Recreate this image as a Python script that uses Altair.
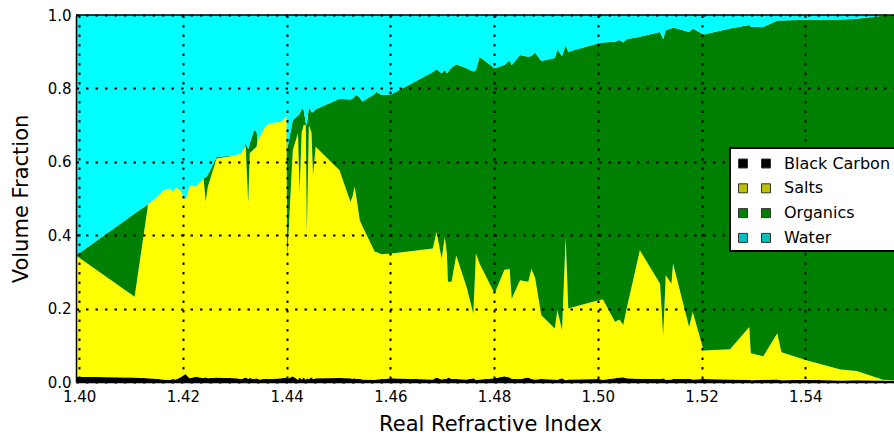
import altair as alt
import pandas as pd

# Real refractive index of each retrieved composition
ri = [
    1.3994, 1.4107, 1.4133, 1.4149, 1.4162, 1.4175, 1.4181, 1.4186, 1.4195, 1.4205,
    1.4213, 1.4225, 1.4240, 1.4244, 1.4248, 1.4265, 1.4303, 1.4313, 1.4321, 1.4326,
    1.4329, 1.4337, 1.4342, 1.4344, 1.4348, 1.4358, 1.4367, 1.4390, 1.4400, 1.4401,
    1.4412, 1.4422, 1.4425, 1.4429, 1.4433, 1.4437, 1.4439, 1.4443, 1.4448, 1.4451,
    1.4456, 1.4502, 1.4523, 1.4527, 1.4531, 1.4535, 1.4541, 1.4546, 1.4570, 1.4573,
    1.4583, 1.4602, 1.4682, 1.4689, 1.4699, 1.4705, 1.4709, 1.4711, 1.4718, 1.4727,
    1.4747, 1.4760, 1.4765, 1.4772, 1.4801, 1.4820, 1.4830, 1.4834, 1.4850, 1.4866,
    1.4872, 1.4879, 1.4891, 1.4917, 1.4922, 1.4931, 1.4938, 1.4943, 1.5001, 1.5010,
    1.5033, 1.5042, 1.5049, 1.5055, 1.5081, 1.5120, 1.5126, 1.5131, 1.5142, 1.5145,
    1.5176, 1.5183, 1.5204, 1.5255, 1.5292, 1.5295, 1.5319, 1.5346, 1.5354, 1.5402,
    1.5468, 1.5499, 1.5550, 1.5571,
]

# Volume fractions of each component at those indices
black_carbon = [
    .014, .012, .010, .009, .007, .006, .008, .007, .012, .022,
    .010, .014, .011, .013, .010, .012, .010, .008, .012, .009,
    .011, .008, .010, .009, .007, .009, .008, .010, .012, .008,
    .016, .006, .013, .007, .012, .006, .010, .008, .013, .008,
    .010, .011, .010, .009, .010, .008, .009, .007, .006, .007,
    .008, .010, .007, .012, .007, .009, .008, .013, .008, .008,
    .007, .010, .006, .007, .010, .016, .012, .009, .008, .012,
    .008, .007, .008, .007, .006, .010, .005, .007, .008, .006,
    .010, .012, .013, .010, .009, .008, .010, .006, .007, .008,
    .009, .007, .008, .007, .006, .005, .006, .007, .005, .006,
    .004, .005, .004, .003,
]
salts = [
    .331, .220, .474, .494, .515, .522, .510, .523, .511, .473,
    .526, .518, .544, .478, .521, .597, .608, .616, .633, .479,
    .612, .627, .630, .649, .661, .685, .697, .699, .713, .324,
    .616, .672, .501, .673, .688, .694, .395, .692, .667, .555,
    .631, .566, .481, .496, .522, .492, .432, .418, .349, .347,
    .340, .340, .357, .397, .329, .386, .342, .260, .265, .337,
    .252, .176, .344, .316, .231, .290, .296, .218, .269, .261,
    .300, .278, .174, .139, .190, .131, .390, .193, .215, .219,
    .154, .158, .142, .186, .350, .260, .117, .285, .261, .315,
    .141, .184, .078, .082, .144, .073, .064, .126, .076, .053,
    .030, .025, .002, .001,
]
organics = [
    .000, .227, .000, .000, .000, .000, .000, .000, .000, .000,
    .000, .000, .000, .066, .033, .004, .000, .000, .005, .147,
    .027, .051, .044, .000, .000, .000, .000, .000, .000, .300,
    .082, .048, .216, .065, .041, .005, .295, .049, .055, .172,
    .102, .195, .279, .267, .246, .282, .334, .339, .430, .437,
    .434, .434, .481, .443, .505, .455, .491, .572, .584, .521,
    .596, .660, .500, .563, .614, .558, .569, .637, .614, .613,
    .580, .613, .693, .737, .710, .747, .523, .700, .700, .700,
    .763, .762, .770, .738, .582, .686, .807, .668, .695, .643,
    .804, .772, .861, .874, .823, .890, .897, .852, .904, .928,
    .954, .960, .992, .996,
]
water = [
    .655, .541, .516, .497, .478, .472, .482, .470, .477, .505,
    .464, .468, .445, .443, .436, .387, .382, .376, .350, .365,
    .350, .314, .316, .342, .332, .306, .295, .291, .275, .368,
    .286, .274, .270, .255, .259, .295, .300, .251, .265, .265,
    .257, .228, .230, .228, .222, .218, .225, .236, .215, .209,
    .218, .216, .155, .148, .159, .150, .159, .155, .143, .134,
    .145, .154, .150, .114, .145, .136, .123, .136, .109, .114,
    .112, .102, .125, .117, .094, .112, .082, .100, .077, .075,
    .073, .068, .075, .066, .059, .046, .066, .041, .037, .034,
    .046, .037, .053, .037, .027, .032, .033, .015, .015, .013,
    .012, .010, .002, .000,
]

species = ["Black Carbon", "Salts", "Organics", "Water"]
fill_colors = ["#000000", "#ffff00", "#008000", "#00ffff"]
legend_colors = ["#000000", "#bfbf00", "#008000", "#00bfbf"]
x_ticks = [1.40, 1.42, 1.44, 1.46, 1.48, 1.50, 1.52, 1.54]
y_ticks = [0.0, 0.2, 0.4, 0.6, 0.8, 1.0]

rows = []
for k, (name, values) in enumerate(zip(species, [black_carbon, salts, organics, water])):
    for x, v in zip(ri, values):
        rows.append({"ri": x, "species": name, "fraction": v, "k": k})
df = pd.DataFrame(rows)

FONT = "DejaVu Sans"
grid_style = dict(grid=True, gridColor="black", gridDash=[2.5, 7], gridWidth=2, gridOpacity=1)

x_enc = alt.X(
    "ri:Q",
    scale=alt.Scale(domain=[1.3994, 1.5571], nice=False, zero=False),
    axis=alt.Axis(
        values=x_ticks, format=".2f", title="Real Refractive Index",
        labelFontSize=15, titleFontSize=21, labelPadding=7, titlePadding=9,
        titleX=414, ticks=False, domainColor="black", domainWidth=1.5,
        zindex=1, **grid_style,
    ),
)
y_enc = alt.Y(
    "fraction:Q",
    stack="zero",
    scale=alt.Scale(domain=[0, 1], nice=False),
    axis=alt.Axis(
        values=y_ticks, format=".1f", title="Volume Fraction",
        labelFontSize=15, titleFontSize=21, labelPadding=5, titlePadding=16,
        ticks=False, domainColor="black", domainWidth=1.5,
        zindex=1, **grid_style,
    ),
)

areas = alt.Chart(df).mark_area(interpolate="linear").encode(
    x=x_enc,
    y=y_enc,
    fill=alt.Fill("species:N", scale=alt.Scale(domain=species, range=fill_colors), legend=None),
    order=alt.Order("k:Q"),
)

top_edge = alt.Chart(pd.DataFrame({"edge": [0]})).mark_rule(
    color="black", strokeWidth=1.5
).encode(y=alt.datum(1.0))

# Legend key: two small squares per entry, drawn in the darker legend colours
two_squares = "M-1.6,-0.45H-0.7V0.45H-1.6Z M0.7,-0.45H1.6V0.45H0.7Z"
key = alt.Chart(pd.DataFrame({"component": species})).mark_point(
    filled=True, opacity=0
).encode(
    color=alt.Color(
        "component:N",
        scale=alt.Scale(domain=species, range=legend_colors),
        legend=alt.Legend(
            title=None, orient="none", legendX=654, legendY=133,
            symbolType=two_squares, symbolSize=400, symbolOffset=9,
            symbolStrokeColor="#333333", symbolStrokeWidth=1, symbolOpacity=1,
            labelFontSize=16, labelFont=FONT, labelColor="black", labelOffset=19,
            rowPadding=5.8, padding=5, fillColor="white", strokeColor="black",
            zindex=2,
        ),
    )
)

chart = alt.layer(areas, top_edge, key).properties(
    width=818, height=367,
    autosize=alt.AutoSizeParams(type="none"),
    padding={"left": 76, "top": 15, "right": 0, "bottom": 52},
).resolve_legend(color="independent", fill="independent").configure_view(
    stroke=None
).configure_axis(
    labelFont=FONT, titleFont=FONT, labelColor="black", titleColor="black",
    titleFontWeight="normal",
).configure_legend(strokeWidth=2)

chart.save("out.html", embed_options={"renderer": "svg", "actions": False})
